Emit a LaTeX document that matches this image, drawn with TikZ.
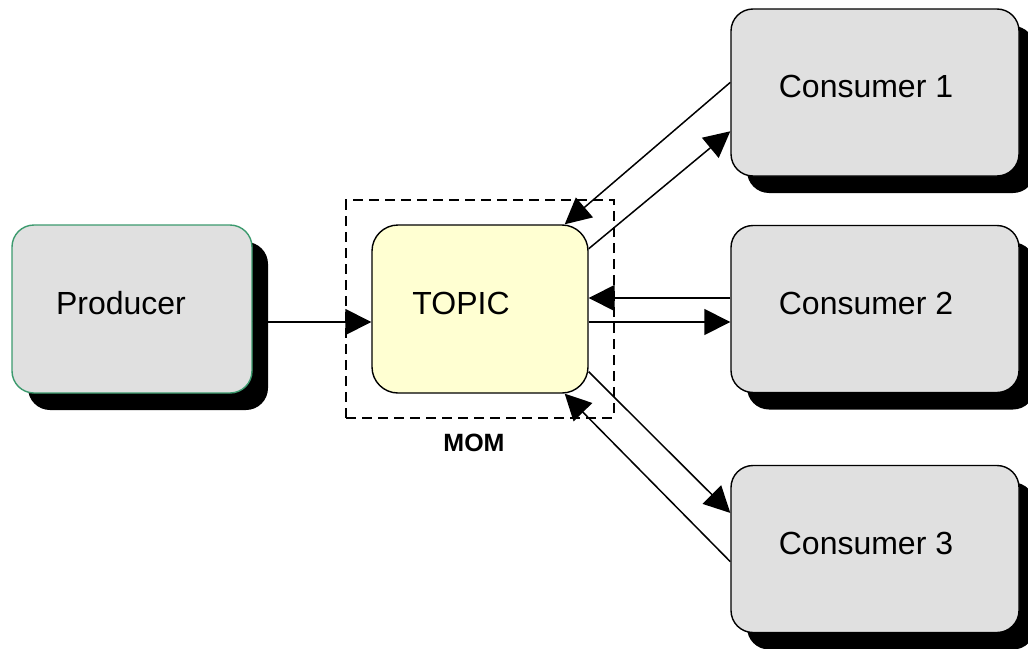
\documentclass[tikz,border=0pt]{standalone}
\usepackage{fontspec}
\setmainfont{Liberation Sans}
\usepackage{xcolor}
\usetikzlibrary{arrows.meta,positioning,shadows,fit}
\definecolor{boxgray}{HTML}{E0E0E0}
\definecolor{topicyellow}{HTML}{FFFFD2}
\definecolor{prodgreen}{HTML}{3C9A6E}

\begin{document}
\begin{tikzpicture}[x=0.5pt, y=-0.5pt,
  plainbox/.style={draw=black, line width=0.7pt, fill=boxgray, rounded corners=11pt},
  box/.style={plainbox,
    drop shadow={shadow xshift=8pt, shadow yshift=-8.5pt, fill=black, opacity=1}},
  boxtext/.style={font=\fontsize{16}{19}\selectfont},
  flow/.style={-{Triangle[length=13pt, width=13pt]}, line width=0.75pt},
  momframe/.style={draw, line width=1pt, dash pattern=on 5pt off 3pt,
    inner xsep=12.5pt, inner ysep=12pt}]
\useasboundingbox (0,0) rectangle (1028,648);

% boxes
\node[box, draw=prodgreen, minimum width=120pt, minimum height=84pt,
  label={[boxtext, xshift=-5.5pt, yshift=3pt]center:Producer}] (prod) at (132,309) {};
\node[plainbox, fill=topicyellow, rounded corners=13pt, minimum width=108pt, minimum height=84pt,
  label={[boxtext, xshift=-9.5pt, yshift=3pt]center:TOPIC}] (topic) at (480,309) {};
\node[box, minimum width=144pt, minimum height=83.5pt,
  label={[boxtext, xshift=-4.5pt, yshift=3pt]center:Consumer 1}] (cons1) at (875,92.5) {};
\node[box, minimum width=144pt, minimum height=83.5pt,
  label={[boxtext, xshift=-4.5pt, yshift=3pt]center:Consumer 2}] (cons2) at (875,309) {};
\node[box, minimum width=144pt, minimum height=83.5pt,
  label={[boxtext, xshift=-4.5pt, yshift=3pt]center:Consumer 3}] (cons3) at (875,549) {};

% MOM frame
\node[momframe, fit=(topic)] (mom) {};
\node[font=\bfseries\fontsize{12.5}{15}\selectfont, below=4pt of mom, xshift=-3pt] (momtext) {MOM};

% connectors
\draw[flow] ([yshift=-6.5pt]prod.east) -- ([yshift=-6.5pt]topic.west);
\draw[flow] (cons1.176) -- (topic.45);
\draw[flow] (topic.29) -- (cons1.195);
\draw[flow] ([yshift=5.5pt]cons2.west) -- ([yshift=5.5pt]topic.east);
\draw[flow] ([yshift=-6.5pt]topic.east) -- ([yshift=-6.5pt]cons2.west);
\draw[flow] (topic.-30) -- (cons3.166);
\draw[flow] (cons3.185) -- (topic.-45);
\end{tikzpicture}
\end{document}
